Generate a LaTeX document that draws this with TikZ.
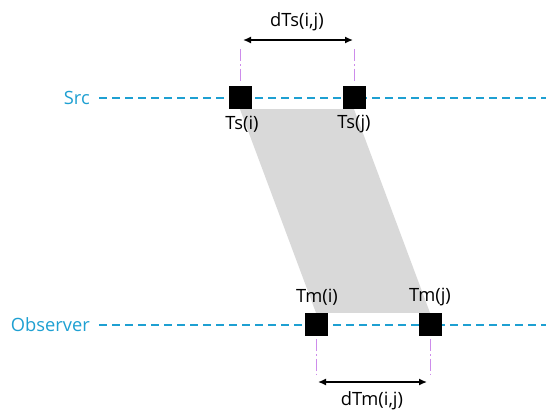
\documentclass[tikz,border=0pt]{standalone}
\usepackage{fontspec}
\setmainfont{Open Sans}
\usetikzlibrary{arrows.meta}
\definecolor{lineblue}{RGB}{30,160,210}
\definecolor{bandgrey}{RGB}{217,217,217}
\definecolor{tickviolet}{RGB}{205,140,235}
\begin{document}
\begin{tikzpicture}[x=1pt,y=-1pt,
  event/.style={draw=none,fill=black,minimum size=23pt,inner sep=0pt},
  lbl/.style={font=\fontsize{18.3}{21}\selectfont,inner sep=0pt},
  axislbl/.style={lbl,text=lineblue,anchor=east},
  axis/.style={lineblue,line width=1.4pt,dash pattern=on 8pt off 5pt},
  tick/.style={tickviolet,line width=1pt,dash pattern=on 12pt off 3pt on 1.5pt off 3pt},
  span/.style={line width=1.4pt,{Latex[length=8pt,width=7pt]}-{Latex[length=8pt,width=7pt]}}]
\useasboundingbox (0,0) rectangle (546,410);
\fill[white] (0,0) rectangle (546,410);

% timeline labels and their ends
\node[axislbl] (src) at (90,98) {Src};
\node[axislbl] (obs) at (90,325) {Observer};
\coordinate (srcend) at (546,98);
\coordinate (obsend) at (546,325);

% event markers
\node[event] (si) at (240,97.5) {};
\node[event] (sj) at (354,97.5) {};
\node[event] (mi) at (316,324.5) {};
\node[event] (mj) at (430,324.5) {};

% transit band between the two timelines
\fill[bandgrey] (si.south) -- (sj.south) -- (mj.north) -- (mi.north) -- cycle;

% timelines
\draw[axis] ([xshift=9pt]src.east) -- (srcend);
\draw[axis] ([xshift=9pt]obs.east) -- (obsend);

% markers drawn over the timelines
\node[event] at (si) {};
\node[event] at (sj) {};
\node[event] at (mi) {};
\node[event] at (mj) {};

% event labels
\node[lbl] (lsi) at (242,124) {Ts(i)};
\node[lbl] (lsj) at (354,124) {Ts(j)};
\node[lbl] (lmi) at (317,297) {Tm(i)};
\node[lbl] (lmj) at (430,297) {Tm(j)};

% source interval
\coordinate (tsi) at (240,49);
\coordinate (tsj) at (354,49);
\draw[tick] (tsi) -- ([yshift=3pt]si.north);
\draw[tick] (tsj) -- ([yshift=3pt]sj.north);
\coordinate (asi) at (243,40);
\coordinate (asj) at (353,40);
\draw[span] (asi) -- (asj);
\node[lbl] (dts) at (297,22) {dTs(i,j)};

% observer interval
\coordinate (tmi) at (316,375);
\coordinate (tmj) at (430,375);
\draw[tick] ([yshift=-3pt]mi.south) -- (tmi);
\draw[tick] ([yshift=-3pt]mj.south) -- (tmj);
\coordinate (ami) at (318,382);
\coordinate (amj) at (427,382);
\draw[span] (ami) -- (amj);
\node[lbl] (dtm) at (372,401) {dTm(i,j)};
\end{tikzpicture}
\end{document}
